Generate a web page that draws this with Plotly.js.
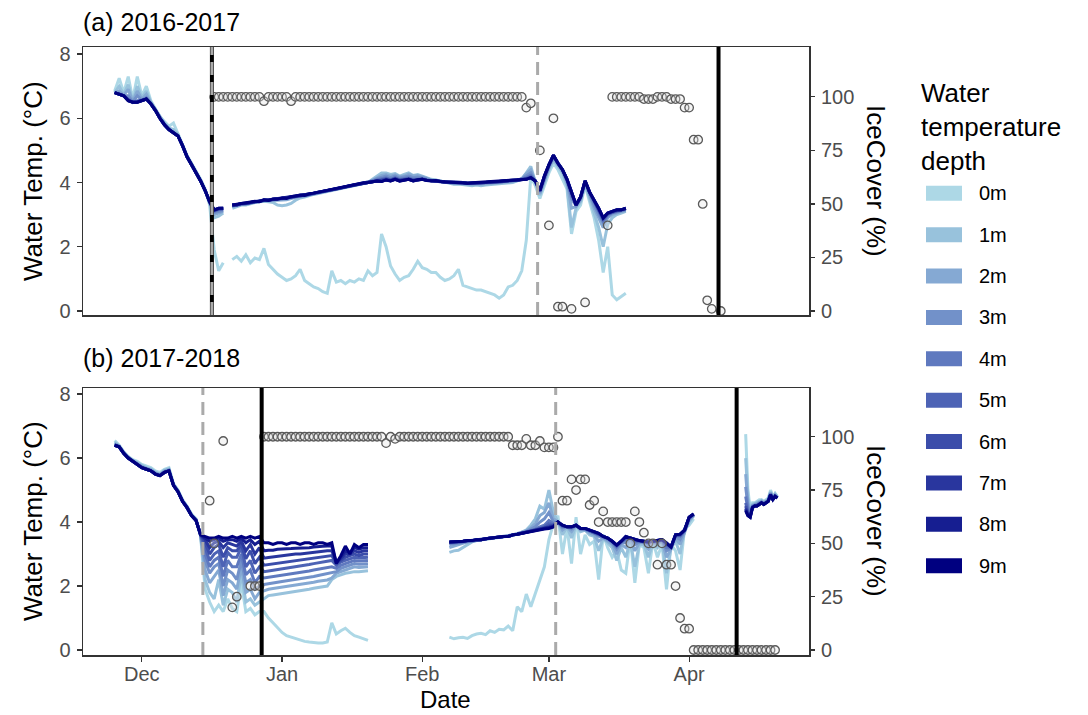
<!DOCTYPE html>
<html><head><meta charset="utf-8">
<script src="https://cdn.plot.ly/plotly-3.0.1.min.js"></script>
<style>html,body{margin:0;padding:0;background:#fff}#chart{width:1088px;height:715px}</style>
</head><body><div id="chart"></div>
<script>
// ---------- DATA (days are counted from 1 December of each season) ----------
const depths = ['0m','1m','2m','3m','4m','5m','6m','7m','8m','9m'];
const depthColors = ['#ADD8E6','#98C2DC','#85A9D3','#7291C9','#5F79BF','#4D63B5','#3B4DAA','#29369E','#161E91','#000080'];
const monthLabels = ['Dec','Jan','Feb','Mar','Apr'];
const monthStartDays = [0,31,62,90,121];

// (a) 2016-2017 : daily values, days -6 .. 107
const dayA = [-6,-5,-4,-3,-2,-1,0,1,2,3,4,5,6,7,8,9,10,11,12,13,14,15,16,17,18,19,20,21,22,23,24,25,26,27,28,29,30,31,32,33,34,35,36,37,38,39,40,41,42,43,44,45,46,47,48,49,50,51,52,53,54,55,56,57,58,59,60,61,62,63,64,65,66,67,68,69,70,71,72,73,74,75,76,77,78,79,80,81,82,83,84,85,86,87,88,89,90,91,92,93,94,95,96,97,98,99,100,101,102,103,104,105,106,107];
const tempA_0m = [6.85,7.25,6.8,7.3,6.6,7.3,6.7,7.0,6.55,6.3, 6.05,5.9,5.75,5.85,5.5,5.2,4.85,4.6,4.35,4.1, 3.8,3.3,1.9,1.25,1.5,null,1.6,1.7,1.55,1.75, 1.5,1.65,1.6,1.95,1.45,1.3,1.15,1.05,0.95,1.0, 1.1,1.3,0.95,0.85,0.75,0.7,0.6,0.55,1.25,0.9, 0.95,0.85,0.95,0.9,1.0,0.95,1.25,1.1,1.2,2.4, 2.0,1.4,1.15,0.95,1.05,1.1,1.3,1.55,1.35,1.3, 1.2,1.2,1.05,0.95,1.0,1.1,1.3,0.8,0.75,0.7, 0.65,0.65,0.6,0.55,0.5,0.4,0.5,0.75,0.8,0.95, 1.25,2.2,4.2,3.9,3.5,3.9,4.3,4.6,4.4,4.1, 3.8,2.4,3.1,3.3,3.9,3.4,2.9,2.2,1.2,2.0, 0.5,0.35,0.45,0.55];
const tempA_1m = [6.8,7.0,6.75,7.05,6.55,7.0,6.65,6.85,6.5,6.28, 6.03,5.85,5.7,5.65,5.5,5.18,4.82,4.58,4.32,4.07, 3.77,3.35,2.9,2.95,3.05,null,3.2,3.25,3.3,3.3, 3.35,3.38,3.4,3.42,3.4,3.38,3.3,3.28,3.3,3.35, 3.45,3.52,3.55,3.6,3.63,3.66,3.7,3.72,3.75,3.78, 3.8,3.85,3.88,3.9,3.93,3.95,4.0,4.1,4.2,4.3, 4.3,4.25,4.28,4.2,4.25,4.3,4.22,4.25,4.2,4.15, 4.1,4.08,4.05,4.0,3.98,3.95,3.95,3.93,3.92,3.9, 3.92,3.9,3.92,3.93,3.95,3.95,3.97,3.98,4.0,4.05, 4.1,4.3,4.5,4.0,3.6,4.0,4.4,4.7,4.5,4.3, 3.9,2.6,3.2,3.4,3.95,3.5,3.1,2.6,2.0,2.7, 2.9,3.0,3.05,3.1];
const tempA_2m = [6.8,6.85,6.72,6.9,6.52,6.85,6.6,6.75,6.48,6.26, 6.02,5.82,5.67,5.58,5.47,5.16,4.81,4.56,4.31,4.06, 3.76,3.38,3.0,3.05,3.1,null,3.25,3.28,3.32,3.32, 3.36,3.39,3.41,3.44,3.43,3.44,3.45,3.44,3.46,3.5, 3.54,3.57,3.58,3.62,3.65,3.68,3.71,3.74,3.77,3.79, 3.82,3.86,3.89,3.92,3.94,3.97,4.0,4.07,4.15,4.22, 4.25,4.2,4.24,4.18,4.2,4.26,4.2,4.22,4.18,4.13, 4.08,4.07,4.04,4.01,4.0,3.97,3.97,3.96,3.95,3.94, 3.95,3.95,3.96,3.97,3.98,3.99,4.01,4.02,4.03,4.06, 4.12,4.28,4.4,4.02,3.65,4.05,4.45,4.75,4.55,4.35, 4.0,3.2,3.25,3.45,4.0,3.6,3.2,2.9,2.6,2.9, 3.0,3.05,3.1,3.12];
const tempA_3m = [6.8,6.78,6.71,6.7,6.51,6.7,6.57,6.65,6.47,6.25, 6.01,5.81,5.66,5.56,5.46,5.15,4.8,4.55,4.3,4.05, 3.75,3.39,3.06,3.1,3.13,null,3.27,3.29,3.33,3.33, 3.37,3.39,3.41,3.44,3.44,3.46,3.48,3.48,3.5,3.53, 3.56,3.58,3.59,3.62,3.66,3.69,3.71,3.74,3.77,3.79, 3.82,3.86,3.89,3.92,3.94,3.97,4.0,4.05,4.12,4.17, 4.2,4.15,4.2,4.14,4.16,4.2,4.15,4.17,4.15,4.1, 4.07,4.06,4.04,4.01,4.01,3.98,3.98,3.97,3.96,3.96, 3.97,3.97,3.98,3.99,4.0,4.01,4.03,4.03,4.05,4.07, 4.12,4.22,4.3,4.04,3.7,4.1,4.5,4.8,4.58,4.38, 4.05,3.5,3.28,3.5,4.02,3.65,3.3,3.0,2.75,2.95, 3.05,3.08,3.12,3.15];
const tempA_4m = [6.8,6.76,6.7,6.6,6.5,6.55,6.56,6.62,6.46,6.25, 6.0,5.8,5.65,5.55,5.45,5.15,4.8,4.55,4.3,4.05, 3.75,3.4,3.1,3.15,3.16,null,3.28,3.3,3.34,3.34, 3.37,3.4,3.42,3.45,3.45,3.47,3.49,3.49,3.51,3.54, 3.57,3.59,3.6,3.63,3.66,3.69,3.71,3.74,3.77,3.8, 3.82,3.86,3.89,3.92,3.94,3.97,4.0,4.03,4.08,4.12, 4.15,4.1,4.15,4.1,4.12,4.15,4.1,4.12,4.12,4.08, 4.06,4.05,4.03,4.01,4.01,3.99,3.99,3.98,3.97,3.97, 3.99,3.99,3.99,4.0,4.01,4.02,4.04,4.04,4.06,4.07, 4.11,4.15,4.22,4.05,3.72,4.15,4.52,4.82,4.6,4.4, 4.08,3.6,3.3,3.52,4.03,3.68,3.4,3.1,2.8,3.0, 3.07,3.1,3.13,3.17];
const tempA_5m = [6.8,6.75,6.7,6.58,6.5,6.52,6.55,6.6,6.45,6.25, 6.0,5.8,5.65,5.55,5.45,5.15,4.8,4.55,4.3,4.05, 3.75,3.4,3.12,3.17,3.18,null,3.29,3.3,3.34,3.34, 3.37,3.4,3.42,3.45,3.45,3.47,3.49,3.5,3.51,3.54, 3.57,3.59,3.6,3.63,3.66,3.69,3.71,3.74,3.77,3.8, 3.82,3.86,3.89,3.92,3.94,3.97,4.0,4.02,4.07,4.08, 4.12,4.08,4.13,4.08,4.1,4.12,4.08,4.1,4.11,4.07, 4.05,4.05,4.03,4.01,4.01,3.99,3.99,3.99,3.97,3.97, 3.99,3.99,3.99,4.01,4.01,4.02,4.04,4.04,4.06,4.07, 4.1,4.12,4.18,4.05,3.73,4.17,4.53,4.83,4.6,4.4, 4.09,3.65,3.3,3.53,4.04,3.69,3.42,3.15,2.85,3.02, 3.08,3.12,3.14,3.18];
const tempA_6m = [6.8,6.75,6.7,6.56,6.5,6.51,6.55,6.6,6.45,6.25, 6.0,5.8,5.65,5.55,5.45,5.15,4.8,4.55,4.3,4.05, 3.75,3.4,3.13,3.18,3.19,null,3.3,3.3,3.35,3.35, 3.38,3.4,3.42,3.45,3.45,3.48,3.5,3.5,3.52,3.55, 3.58,3.6,3.6,3.63,3.67,3.7,3.72,3.75,3.78,3.8, 3.83,3.87,3.9,3.93,3.95,3.98,4.0,4.02,4.06,4.06, 4.1,4.07,4.12,4.07,4.09,4.11,4.07,4.09,4.1,4.07, 4.05,4.05,4.03,4.02,4.02,4.0,4.0,4.0,3.98,3.98, 4.0,4.0,4.0,4.02,4.02,4.03,4.05,4.05,4.07,4.08, 4.1,4.11,4.16,4.05,3.74,4.18,4.54,4.84,4.6,4.4, 4.1,3.68,3.3,3.54,4.05,3.7,3.44,3.18,2.88,3.03, 3.09,3.13,3.15,3.19];
const tempA_7m = [6.8,6.75,6.7,6.55,6.5,6.5,6.55,6.6,6.45,6.25, 6.0,5.8,5.65,5.55,5.45,5.15,4.8,4.55,4.3,4.05, 3.75,3.4,3.14,3.19,3.2,null,3.3,3.3,3.35,3.35, 3.38,3.41,3.42,3.45,3.45,3.48,3.5,3.51,3.52,3.55, 3.58,3.6,3.61,3.63,3.67,3.7,3.72,3.75,3.78,3.8, 3.83,3.87,3.9,3.93,3.95,3.98,4.0,4.02,4.05,4.04, 4.09,4.06,4.11,4.06,4.08,4.1,4.06,4.08,4.1,4.07, 4.05,4.05,4.03,4.02,4.02,4.0,4.0,4.0,3.98,3.98, 4.0,4.0,4.0,4.02,4.02,4.03,4.05,4.05,4.07,4.08, 4.1,4.1,4.15,4.05,3.75,4.19,4.55,4.85,4.6,4.4, 4.1,3.7,3.3,3.55,4.05,3.7,3.45,3.19,2.89,3.04, 3.1,3.14,3.15,3.2];
const tempA_8m = [6.8,6.75,6.7,6.55,6.5,6.5,6.55,6.6,6.45,6.25, 6.0,5.8,5.65,5.55,5.45,5.15,4.8,4.55,4.3,4.05, 3.75,3.4,3.15,3.2,3.2,null,3.3,3.31,3.35,3.36, 3.38,3.41,3.42,3.46,3.45,3.48,3.5,3.51,3.52,3.56, 3.58,3.6,3.61,3.64,3.67,3.7,3.72,3.75,3.78,3.81, 3.83,3.87,3.9,3.93,3.95,3.98,4.0,4.02,4.05,4.03, 4.08,4.05,4.1,4.05,4.08,4.1,4.05,4.08,4.1,4.07, 4.05,4.05,4.03,4.02,4.02,4.0,4.0,4.0,3.98,3.98, 4.0,4.0,4.0,4.02,4.02,4.03,4.05,4.05,4.07,4.08, 4.1,4.1,4.15,4.05,3.75,4.2,4.56,4.85,4.6,4.4, 4.1,3.7,3.3,3.55,4.05,3.7,3.45,3.2,2.9,3.05, 3.1,3.15,3.15,3.2];
const tempA_9m = [6.8,6.75,6.7,6.55,6.5,6.5,6.55,6.6,6.45,6.25, 6.0,5.8,5.65,5.55,5.45,5.15,4.8,4.55,4.3,4.05, 3.75,3.4,3.15,3.2,3.2,null,3.3,3.32,3.35,3.37, 3.38,3.42,3.4,3.46,3.44,3.49,3.48,3.52,3.5,3.56, 3.58,3.61,3.6,3.65,3.67,3.7,3.73,3.75,3.79,3.8, 3.83,3.88,3.9,3.94,3.95,3.99,4.0,4.03,4.05,4.03, 4.08,4.05,4.1,4.04,4.08,4.1,4.05,4.09,4.1,4.06, 4.05,4.06,4.03,4.02,4.03,4.0,4.01,4.0,3.98,3.99, 4.0,4.01,4.0,4.02,4.03,4.03,4.05,4.06,4.07,4.08, 4.1,4.1,4.15,4.05,3.75,4.2,4.55,4.85,4.6,4.4, 4.1,3.7,3.3,3.55,4.05,3.7,3.45,3.2,2.9,3.05, 3.1,3.15,3.15,3.2];

// (b) 2017-2018 : days -6..50, 68..122, 133.5..140.5 (null rows separate the gaps)
const dayB = [-6,-5,-4,-3,-2,-1,0,1,2,3, 4,5,6,7,8,9,10,11,12,13, 14,15,16,17,18,19,20,21,22,23, 24,25,26,27,28,29,30,31,32,33, 34,35,36,37,38,39,40,41,42,43, 44,45,46,47,48,49,50,51, 68,69,70,71,72,73,74,75,76,77, 78,79,80,81,82,83,84,85,86,87, 88,89,90,91,92,93,94,95,96,97, 98,99,100,101,102,103,104,105,106,107, 108,109,110,111,112,113,114,115,116,117, 118,119,120,121,122,123, 133.5,134,134.5,135,135.5,136,136.5,137,137.5,138,138.5,139,139.5,140,140.5];
const tempB_0m = [6.55,6.4,6.2,6.05,5.95,5.9,5.8,5.75,5.7,5.6, 5.55,5.65,5.7,5.2,5.0,4.7,4.5,4.25,4.1,3.55, 1.9,1.5,1.2,1.4,1.2,1.6,1.3,1.2,2.1,1.2, 1.3,1.1,1.2,1.2,1.0,0.85,0.7,0.55,0.45,0.4, 0.35,0.3,0.27,0.25,0.23,0.22,0.22,0.25,0.85,0.5, 0.6,0.68,0.55,0.45,0.4,0.35,0.3,null, 0.4,0.35,0.38,0.4,0.36,0.45,0.5,0.52,0.48,0.6, 0.55,0.65,0.63,0.75,0.6,1.35,1.2,1.75,1.35,1.75, 2.2,2.6,3.45,3.95,4.2,3.0,3.85,2.7,4.15,3.0, 3.6,3.3,3.4,2.2,3.6,3.2,2.9,3.1,2.5,2.4, 3.5,2.1,3.3,3.2,2.4,3.4,2.9,3.3,1.9,3.3, 3.1,2.5,3.8,3.9,4.1,null, 6.75,5.0,4.4,4.6,4.6,4.65,4.7,4.7,4.65,4.7,4.75,5.0,4.8,4.9,4.8];
const tempB_1m = [6.5,6.38,6.18,6.03,5.93,5.85,5.76,5.7,5.66,5.56, 5.5,5.62,5.66,5.18,4.98,4.68,4.48,4.23,4.08,3.58, 2.2,1.8,1.6,2.2,1.4,1.9,1.8,1.5,2.4,1.5, 1.6,1.4,1.5,1.6,1.7,1.72,1.74,1.76,1.78,1.8, 1.82,1.85,1.88,1.9,1.93,1.96,1.98,2.0,2.2,2.3, 2.35,2.4,2.42,2.45,2.45,2.47,2.48,null, 3.05,3.1,3.12,3.2,3.3,3.38,3.42,3.44,3.46,3.48, 3.5,3.5,3.52,3.55,3.58,3.62,3.68,3.75,3.9,4.1, 4.5,4.4,5.0,4.3,4.0,3.6,3.85,3.5,3.9,3.7, 3.75,3.6,3.55,3.1,3.5,3.35,3.2,2.8,3.2,2.9, 3.4,2.6,3.3,3.3,2.9,3.35,3.2,3.4,2.4,3.2, 3.4,3.0,3.75,4.0,4.2,null, 6.0,4.8,4.35,4.55,4.58,4.62,4.66,4.68,4.62,4.68,4.72,4.95,4.78,4.88,4.78];
const tempB_2m = [6.45,6.37,6.17,6.02,5.92,5.83,5.74,5.68,5.64,5.54, 5.48,5.6,5.64,5.17,4.97,4.67,4.47,4.22,4.07,3.58, 2.5,2.1,2.3,2.5,1.7,2.2,2.1,1.9,2.6,1.8, 1.9,1.6,1.8,1.85,1.9,1.92,1.94,1.96,1.98,2.0, 2.02,2.04,2.07,2.1,2.12,2.15,2.17,2.19,2.25,2.4, 2.45,2.5,2.55,2.6,2.58,2.6,2.6,null, 3.2,3.25,3.3,3.35,3.38,3.4,3.43,3.45,3.47,3.49, 3.51,3.51,3.54,3.56,3.6,3.63,3.68,3.73,3.82,3.95, 4.2,4.3,4.6,4.1,4.0,3.75,3.85,3.7,3.9,3.75, 3.75,3.65,3.6,3.4,3.5,3.4,3.3,3.0,3.3,3.2, 3.45,3.1,3.35,3.35,3.15,3.35,3.3,3.4,2.9,3.15, 3.5,3.3,3.7,4.05,4.2,null, 5.5,4.6,4.3,4.52,4.55,4.58,4.62,4.65,4.6,4.65,4.7,4.92,4.75,4.85,4.77];
const tempB_3m = [6.43,6.36,6.16,6.01,5.91,5.82,5.72,5.67,5.62,5.52, 5.47,5.58,5.62,5.16,4.96,4.66,4.46,4.21,4.06,3.59, 2.8,2.4,2.6,2.7,2.0,2.5,2.4,2.2,2.8,2.1, 2.2,1.9,2.0,2.05,2.08,2.1,2.12,2.14,2.16,2.18, 2.2,2.22,2.25,2.28,2.3,2.33,2.36,2.38,2.42,2.45, 2.55,2.6,2.65,2.7,2.68,2.7,2.7,null, 3.3,3.32,3.35,3.37,3.4,3.41,3.44,3.45,3.47,3.5, 3.51,3.52,3.55,3.56,3.6,3.63,3.66,3.7,3.78,3.85, 4.0,4.1,4.3,4.0,4.0,3.82,3.85,3.78,3.9,3.78, 3.77,3.7,3.65,3.55,3.52,3.45,3.35,3.15,3.35,3.35, 3.48,3.3,3.38,3.37,3.25,3.37,3.35,3.42,3.1,3.18, 3.55,3.45,3.72,4.1,4.22,null, 5.1,4.5,4.25,4.5,4.53,4.55,4.6,4.63,4.58,4.63,4.68,4.9,4.73,4.83,4.76];
const tempB_4m = [6.41,6.35,6.15,6.0,5.9,5.81,5.71,5.66,5.61,5.51, 5.46,5.56,5.61,5.15,4.95,4.65,4.45,4.2,4.05,3.6, 3.0,2.6,2.8,2.9,2.3,2.8,2.6,2.6,3.0,2.35, 2.5,2.1,2.3,2.25,2.27,2.29,2.31,2.33,2.35,2.37, 2.4,2.42,2.45,2.47,2.5,2.53,2.56,2.58,2.6,2.55, 2.65,2.7,2.75,2.8,2.78,2.8,2.8,null, 3.34,3.35,3.37,3.38,3.41,3.41,3.44,3.45,3.47,3.5, 3.52,3.52,3.55,3.55,3.6,3.62,3.65,3.69,3.74,3.78, 3.85,3.9,4.05,3.95,4.0,3.86,3.85,3.82,3.9,3.79, 3.78,3.72,3.68,3.6,3.54,3.48,3.38,3.22,3.38,3.45, 3.49,3.38,3.4,3.38,3.32,3.38,3.38,3.44,3.2,3.2, 3.58,3.55,3.73,4.12,4.23,null, 4.8,4.4,4.22,4.48,4.52,4.53,4.58,4.62,4.57,4.62,4.67,4.88,4.72,4.82,4.76];
const tempB_5m = [6.4,6.35,6.15,6.0,5.9,5.8,5.7,5.65,5.6,5.5, 5.45,5.55,5.6,5.15,4.95,4.65,4.45,4.2,4.05,3.6, 3.2,2.8,3.0,3.1,2.6,3.05,2.9,2.9,3.2,2.6, 2.8,2.4,2.6,2.45,2.47,2.49,2.51,2.53,2.55,2.57, 2.6,2.62,2.65,2.67,2.7,2.72,2.75,2.77,2.8,2.65, 2.75,2.8,2.85,2.9,2.88,2.9,2.9,null, 3.36,3.36,3.38,3.39,3.41,3.42,3.44,3.45,3.47,3.5, 3.52,3.52,3.55,3.55,3.6,3.62,3.65,3.68,3.72,3.75, 3.8,3.85,3.95,3.92,4.0,3.88,3.85,3.84,3.9,3.8, 3.79,3.73,3.69,3.62,3.55,3.49,3.39,3.25,3.39,3.5, 3.5,3.42,3.41,3.39,3.35,3.39,3.4,3.45,3.28,3.21, 3.59,3.58,3.74,4.13,4.24,null, 4.6,4.3,4.2,4.47,4.51,4.52,4.57,4.61,4.56,4.61,4.66,4.87,4.71,4.81,4.75];
const tempB_6m = [6.4,6.35,6.15,6.0,5.9,5.8,5.7,5.65,5.6,5.5, 5.45,5.55,5.6,5.15,4.95,4.65,4.45,4.2,4.05,3.6, 3.35,3.0,3.2,3.3,2.9,3.2,3.1,3.1,3.3,2.85, 3.1,2.7,2.9,2.65,2.67,2.69,2.71,2.73,2.75,2.77, 2.8,2.82,2.84,2.86,2.88,2.9,2.92,2.94,2.95,2.7, 2.8,2.9,2.95,3.0,2.95,3.0,3.0,null, 3.37,3.37,3.39,3.39,3.42,3.42,3.45,3.45,3.48,3.5, 3.52,3.52,3.55,3.55,3.6,3.62,3.65,3.68,3.71,3.74, 3.78,3.82,3.88,3.9,4.0,3.89,3.85,3.85,3.9,3.8, 3.8,3.74,3.7,3.63,3.55,3.5,3.4,3.27,3.4,3.52, 3.5,3.44,3.42,3.4,3.37,3.4,3.41,3.45,3.31,3.22, 3.6,3.6,3.75,4.14,4.25,null, 4.5,4.25,4.18,4.46,4.5,4.51,4.56,4.6,4.55,4.6,4.66,4.86,4.7,4.8,4.75];
const tempB_7m = [6.4,6.35,6.15,6.0,5.9,5.8,5.7,5.65,5.6,5.5, 5.45,5.55,5.6,5.15,4.95,4.65,4.45,4.2,4.05,3.6, 3.45,3.2,3.35,3.4,3.2,3.35,3.3,3.25,3.4,3.1, 3.3,3.0,3.2,2.87,2.89,2.91,2.93,2.95,2.96,2.98, 3.0,3.0,3.02,3.04,3.05,3.07,3.08,3.1,3.1,2.75, 2.85,3.0,3.0,3.1,3.05,3.1,3.1,null, 3.38,3.38,3.4,3.4,3.42,3.42,3.45,3.45,3.48,3.5, 3.52,3.52,3.55,3.55,3.6,3.62,3.65,3.68,3.7,3.73, 3.76,3.8,3.84,3.88,4.0,3.9,3.85,3.85,3.9,3.8, 3.8,3.75,3.7,3.64,3.55,3.5,3.4,3.28,3.4,3.54, 3.5,3.45,3.42,3.4,3.38,3.4,3.42,3.45,3.33,3.22, 3.6,3.61,3.75,4.15,4.25,null, 4.42,4.22,4.16,4.45,4.5,4.5,4.55,4.6,4.55,4.6,4.65,4.85,4.7,4.8,4.75];
const tempB_8m = [6.4,6.35,6.15,6.0,5.9,5.8,5.7,5.65,5.6,5.5, 5.45,5.55,5.6,5.15,4.95,4.65,4.45,4.2,4.05,3.6, 3.5,3.4,3.45,3.5,3.4,3.45,3.45,3.4,3.5,3.35, 3.45,3.3,3.4,3.1,3.12,3.12,3.15,3.15,3.15,3.17, 3.18,3.18,3.2,3.2,3.22,3.22,3.24,3.25,3.25,2.72, 2.9,3.1,3.05,3.2,3.15,3.2,3.2,null, 3.38,3.38,3.4,3.4,3.42,3.42,3.45,3.45,3.48,3.5, 3.52,3.52,3.55,3.55,3.6,3.62,3.65,3.68,3.7,3.72, 3.75,3.79,3.82,3.86,4.0,3.9,3.85,3.85,3.9,3.8, 3.8,3.75,3.7,3.65,3.55,3.5,3.4,3.28,3.4,3.55, 3.5,3.45,3.42,3.4,3.38,3.4,3.42,3.45,3.35,3.22, 3.6,3.62,3.75,4.15,4.25,null, 4.38,4.2,4.15,4.45,4.5,4.5,4.55,4.6,4.55,4.6,4.65,4.85,4.7,4.8,4.75];
const tempB_9m = [6.4,6.35,6.15,6.0,5.9,5.8,5.7,5.65,5.6,5.5, 5.45,5.55,5.6,5.15,4.95,4.65,4.45,4.2,4.05,3.6, 3.55,3.5,3.5,3.55,3.5,3.5,3.55,3.5,3.55,3.5, 3.55,3.5,3.55,3.35,3.35,3.3,3.35,3.35,3.3,3.35, 3.35,3.3,3.35,3.35,3.3,3.35,3.35,3.3,3.35,2.7, 2.95,3.25,3.0,3.3,3.2,3.3,3.3,null, 3.38,3.38,3.4,3.4,3.42,3.42,3.45,3.45,3.48,3.5, 3.52,3.52,3.55,3.55,3.6,3.62,3.65,3.68,3.7,3.72, 3.75,3.78,3.8,3.85,4.0,3.9,3.85,3.85,3.9,3.8, 3.8,3.75,3.7,3.65,3.55,3.5,3.4,3.28,3.4,3.55, 3.5,3.45,3.42,3.4,3.38,3.4,3.42,3.45,3.35,3.22, 3.6,3.62,3.75,4.15,4.25,null, 4.35,4.2,4.15,4.45,4.5,4.5,4.55,4.6,4.55,4.6,4.65,4.85,4.7,4.8,4.75];

// Ice cover (%), one value per day starting at the given day (null = no observation)
const iceA_firstDay = 16;
const iceA = [100,100,100,100,100,100,100,100,100,100,100,98,100,100,100,100,100,98,100,100,
 100,100,100,100,100,100,100,100,100,100,100,100,100,100,100,100,100,100,100,100,
 100,100,100,100,100,100,100,100,100,100,100,100,100,100,100,100,100,100,100,100,
 100,100,100,100,100,100,100,100,100,
 95,97,null,75,null,40,90,2,2,null,1,null,null,4,null,null,null,null,40,
 100,100,100,100,100,100,100,99,99,99,100,100,100,99,99,99,95,95,80,80,50,5,1,null,0];
const iceB_firstDay = 15;
const iceB = [70,50,null,98,null,20,25,null,null,30,30,30,
 100,100,100,100,100,100,100,100,100,100,100,100,100,100,100,100,100,100,100,100,100,100,100,100,100,100,100,
 97,100,99,
 100,100,100,100,100,100,100,100,100,100,100,100,100,100,100,100,100,100,100,100,100,100,100,100,100,
 96,96,96,99,96,96,98,95,95,95,100,
 70,70,80,75,80,80,68,70,60,65,60,60,60,60,60,50,65,60,55,50,50,40,50,40,40,30,15,10,10,
 0,0,0,0,0,0,0,0,0,0,0,0,0,0,0,0,0,0,0];

// Reference lines (day of season): solid black and dashed grey
const solidLinesA = [15.5, 127.5];
const dashedLinesA = [15.5, 87.5];
const solidLinesB = [26.5, 131.5];
const dashedLinesB = [13.5, 91.5];

// ---------- CHART ----------
const BASE = Date.UTC(2017, 11, 1);
function toDate(d){ return new Date(BASE + d*86400000).toISOString().slice(0,16).replace('T',' '); }

const FONT = 'Liberation Sans, Arial, sans-serif';
const tempA = [tempA_0m,tempA_1m,tempA_2m,tempA_3m,tempA_4m,tempA_5m,tempA_6m,tempA_7m,tempA_8m,tempA_9m];
const tempB = [tempB_0m,tempB_1m,tempB_2m,tempB_3m,tempB_4m,tempB_5m,tempB_6m,tempB_7m,tempB_8m,tempB_9m];

const traces = [];
const xA = dayA.map(toDate), xB = dayB.map(toDate);
const LW = 3;
depths.forEach((d,i)=>traces.push({type:'scatter',mode:'lines',name:d,x:xA,y:tempA[i],xaxis:'x',yaxis:'y',
  line:{color:depthColors[i],width:LW},connectgaps:false,showlegend:false,hoverinfo:'skip'}));
const iceMarker = {size:8.5,color:'rgba(225,225,225,0.35)',line:{color:'#595959',width:1.3}};
traces.push({type:'scatter',mode:'markers',name:'IceCover',x:iceA.map((v,k)=>toDate(iceA_firstDay+k)),y:iceA,
  xaxis:'x',yaxis:'y3',marker:iceMarker,showlegend:false,hoverinfo:'skip'});
depths.forEach((d,i)=>traces.push({type:'scatter',mode:'lines',name:d,x:xB,y:tempB[i],xaxis:'x2',yaxis:'y2',
  line:{color:depthColors[i],width:LW},connectgaps:false,showlegend:false,hoverinfo:'skip'}));
traces.push({type:'scatter',mode:'markers',name:'IceCover',x:iceB.map((v,k)=>toDate(iceB_firstDay+k)),y:iceB,
  xaxis:'x2',yaxis:'y4',marker:iceMarker,showlegend:false,hoverinfo:'skip'});

// pixel helpers for layout placement
const L=83, R=809, T=47, B=655;
const px = p => (p-L)/(R-L);
const py = p => (B-p)/(B-T);

const xRange = [toDate(-13), toDate(147.5)];
const axisLine = {showline:true,linecolor:'#333333',linewidth:1.5,mirror:true,zeroline:false,showgrid:false};
const tickFont = {family:FONT,size:20,color:'#4d4d4d'};
const tk = {ticks:'outside',ticklen:5,tickwidth:1.2,tickcolor:'#333',tickfont:tickFont};
const layout = {
  width:1088,height:715,margin:{l:L,r:1088-R,t:T,b:715-B},
  paper_bgcolor:'#fff',plot_bgcolor:'#fff',showlegend:false,
  font:{family:FONT,color:'#000'},
  xaxis:Object.assign({domain:[0,1],anchor:'y',type:'date',range:xRange,showticklabels:false,ticks:''},axisLine),
  xaxis2:Object.assign({domain:[0,1],anchor:'y2',type:'date',range:xRange,
    tickvals:monthStartDays.map(toDate),ticktext:monthLabels,ticklabelstandoff:-5},tk,axisLine),
  yaxis:Object.assign({domain:[py(315),1],anchor:'x',range:[-0.125,8.22],tickvals:[0,2,4,6,8],ticklabelstandoff:2},tk,axisLine),
  yaxis2:Object.assign({domain:[0,py(388)],anchor:'x2',range:[-0.156,8.19],tickvals:[0,2,4,6,8],ticklabelstandoff:2},tk,axisLine),
  yaxis3:Object.assign({overlaying:'y',side:'right',anchor:'x',range:[-0.125*15,8.22*15],tickvals:[0,25,50,75,100],showline:false,showgrid:false,zeroline:false,ticklabelstandoff:2},tk),
  yaxis4:Object.assign({overlaying:'y2',side:'right',anchor:'x2',range:[-0.156*15,8.19*15],tickvals:[0,25,50,75,100],showline:false,showgrid:false,zeroline:false,ticklabelstandoff:2},tk),
  shapes:[], annotations:[]
};

function vline(day, xref, yref, color, width, dash){
  return {type:'line',xref:xref,yref:yref+' domain',x0:toDate(day),x1:toDate(day),y0:0,y1:1,layer:'above',line:{color:color,width:width,dash:dash}};
}
solidLinesA.forEach(d=>layout.shapes.push(vline(d,'x','y','#000000',4,'solid')));
dashedLinesA.forEach(d=>layout.shapes.push(vline(d,'x','y','#aaaaaa',3,'13px,7px')));
solidLinesB.forEach(d=>layout.shapes.push(vline(d,'x2','y2','#000000',4,'solid')));
dashedLinesB.forEach(d=>layout.shapes.push(vline(d,'x2','y2','#aaaaaa',3,'13px,7px')));

const TITLE = 26;
const ann = (text,x,y,opt)=>layout.annotations.push(Object.assign({text:text,xref:'paper',yref:'paper',x:x,y:y,showarrow:false,borderpad:0,font:{family:FONT,size:TITLE,color:'#000'}},opt||{}));
ann('(a) 2016-2017', px(82), py(22), {xanchor:'left',yanchor:'middle',font:{family:FONT,size:25,color:'#000'}});
ann('(b) 2017-2018', px(82), py(358), {xanchor:'left',yanchor:'middle',font:{family:FONT,size:25,color:'#000'}});
ann('Water Temp. (°C)', px(33), py(181), {textangle:-90,xanchor:'center',yanchor:'middle'});
ann('Water Temp. (°C)', px(33), py(521), {textangle:-90,xanchor:'center',yanchor:'middle'});
ann('IceCover (%)', px(876), py(181), {textangle:90,xanchor:'center',yanchor:'middle'});
ann('IceCover (%)', px(876), py(521), {textangle:90,xanchor:'center',yanchor:'middle'});
ann('Date', px(445), py(700), {xanchor:'center',yanchor:'middle',font:{family:FONT,size:24,color:'#000'}});

// legend (drawn as layout items, colours/labels from the arrays above)
ann('Water<br>temperature<br>depth', px(920), py(127), {xanchor:'left',yanchor:'middle',align:'left'});
depths.forEach((d,i)=>{
  const cy = 193.3 + i*41.37;
  layout.shapes.push({type:'rect',xref:'paper',yref:'paper',x0:px(926),x1:px(962),y0:py(cy+7.5),y1:py(cy-7.5),fillcolor:depthColors[i],line:{width:0}});
  ann(d, px(978), py(cy), {xanchor:'left',yanchor:'middle',font:{family:FONT,size:20,color:'#000'}});
});

Plotly.newPlot('chart', traces, layout, {displayModeBar:false,staticPlot:true});
</script>
</body></html>
